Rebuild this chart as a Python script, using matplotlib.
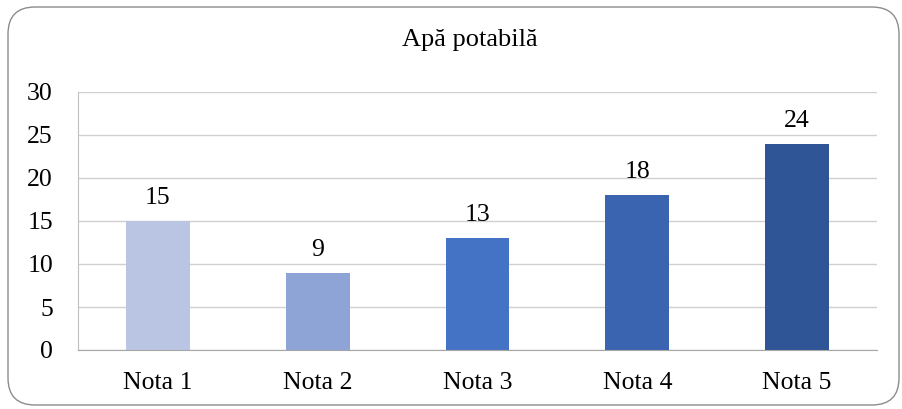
import numpy as np
import matplotlib.pyplot as plt
from matplotlib.patches import FancyBboxPatch

# categorii si valori
categories = ['Nota 1', 'Nota 2', 'Nota 3', 'Nota 4', 'Nota 5']
values = [15, 9, 13, 18, 24]
colors = ['#B9C5E3', '#8FA4D6', '#4472C4', '#3A64B0', '#2F5597']
title = 'Apă potabilă'

plt.rcParams['font.family'] = ['Liberation Serif', 'DejaVu Serif']

fig = plt.figure(figsize=(9.02, 4.09), dpi=100)

# chenar rotunjit in jurul graficului
frame = FancyBboxPatch((8 / 902, 4 / 409), 891 / 902, 398 / 409,
                       boxstyle='round,pad=0,rounding_size=0.03',
                       transform=fig.transFigure, facecolor='none',
                       edgecolor='#8C8C8C', linewidth=1.0,
                       mutation_aspect=902 / 409, zorder=-1)
fig.patches.append(frame)

ax = fig.add_axes([78 / 902, 1 - 350 / 409, 799 / 902, 258 / 409])
ax.set_facecolor('none')

x = np.arange(len(categories))
bars = ax.bar(x, values, width=0.4, color=colors, zorder=3)

for xi, v in zip(x, values):
    ax.text(xi, v + 1.4, str(v), ha='center', va='bottom', fontsize=18.5)

ax.set_xlim(-0.5, len(categories) - 0.5)
ax.set_ylim(0, 30)
ax.set_yticks(range(0, 31, 5))
ax.set_xticks(x)
ax.set_xticklabels(categories)
ax.tick_params(axis='both', length=0, labelsize=18.5)
ax.tick_params(axis='x', pad=16)
ax.tick_params(axis='y', pad=18)
ax.grid(axis='y', color='#D0D0D0', linewidth=1.0, zorder=0)

for side in ['top', 'right']:
    ax.spines[side].set_visible(False)
ax.spines['left'].set_color('#BFBFBF')
ax.spines['bottom'].set_color('#A6A6A6')
ax.spines['bottom'].set_zorder(4)

fig.text(470 / 902, 1 - 40 / 409, title, ha='center', va='center', fontsize=19)

fig.savefig('out.png', dpi=100)
